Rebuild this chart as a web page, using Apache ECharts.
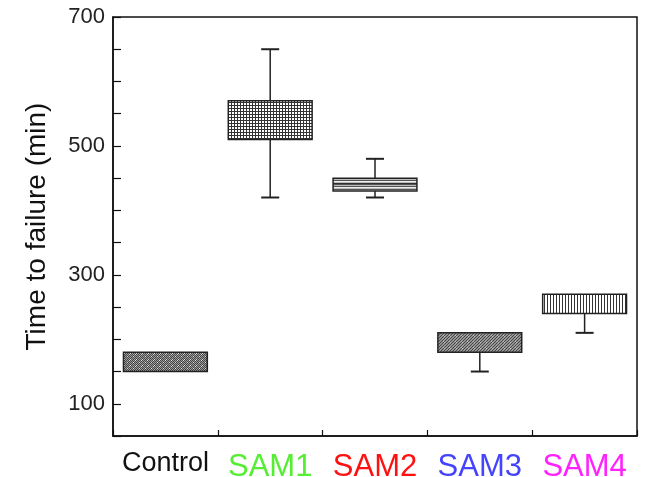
<!DOCTYPE html>
<html><head><meta charset="utf-8">
<script src="https://cdn.jsdelivr.net/npm/echarts@6/dist/echarts.min.js"></script>
<style>html,body{margin:0;padding:0;background:#fff}#c{width:653px;height:477px}</style>
</head><body><div id="c"></div>
<script>
var categories = ['Control', 'SAM1', 'SAM2', 'SAM3', 'SAM4'];
var labelColors = ['#111111', '#55ee33', '#ff1111', '#4444ff', '#ff22ff'];
var boxLow = [150, 510, 430, 180, 240];
var boxHigh = [180, 570, 450, 210, 270];
var whiskerLow = [null, 420, 420, 150, 210];
var whiskerHigh = [null, 650, 480, null, null];
var midLine = [null, null, 441, null, null];
var yLabelValues = [100, 300, 500, 700];

function makePattern(kind) {
  var c = document.createElement('canvas');
  var s = 6; c.width = s; c.height = s;
  var g = c.getContext('2d');
  g.fillStyle = '#ffffff'; g.fillRect(0, 0, s, s);
  if (kind === 0) {
    g.fillStyle = '#9a9a9a'; g.fillRect(0, 0, s, s);
    g.fillStyle = '#444';
    for (var i = 0; i < s; i++) for (var j = 0; j < s; j++) if ((i + j) % 2 === 0) g.fillRect(i, j, 1, 1);
    g.fillStyle = '#ddd'; g.fillRect(1, 2, 1, 1); g.fillRect(4, 5, 1, 1); g.fillRect(3, 0, 1, 1);
  } else if (kind === 1) {
    g.fillStyle = '#333';
    g.fillRect(0, 0, s, 1); g.fillRect(0, 3, s, 1);
    g.fillRect(0, 0, 1, s); g.fillRect(3, 0, 1, s);
  } else if (kind === 2) {
    g.fillStyle = '#bbb'; g.fillRect(0, 0, s, s);
    g.fillStyle = '#555';
    g.fillRect(0, 0, s, 1); g.fillRect(0, 3, s, 1);
    g.fillStyle = '#eee'; g.fillRect(0, 1, s, 1); g.fillRect(0, 4, s, 1);
  } else if (kind === 3) {
    g.fillStyle = '#bbb'; g.fillRect(0, 0, s, s);
    g.strokeStyle = '#444'; g.lineWidth = 1.2;
    g.beginPath();
    g.moveTo(-1, s + 1); g.lineTo(s + 1, -1);
    g.moveTo(-1, 4); g.lineTo(4, -1);
    g.moveTo(2, s + 1); g.lineTo(s + 1, 2);
    g.stroke();
  } else {
    g.fillStyle = '#333';
    g.fillRect(1, 0, 1, s); g.fillRect(4, 0, 1, s);
  }
  return { image: c, repeat: 'repeat' };
}
var patterns = categories.map(function (_, i) { return makePattern(i); });

var seriesData = categories.map(function (_, i) {
  return [i, boxLow[i], boxHigh[i], whiskerLow[i], whiskerHigh[i], midLine[i]];
});

function renderItem(params, api) {
  var idx = api.value(0);
  var bw = api.size([1, 0])[0] * 0.8;
  var lo = api.coord([idx, api.value(1)]);
  var hi = api.coord([idx, api.value(2)]);
  var x = lo[0];
  var children = [];
  var capW = 18;
  var stroke = { stroke: '#222', lineWidth: 1.5 };
  var wl = whiskerLow[idx], wh = whiskerHigh[idx], ml = midLine[idx];
  if (wl != null) {
    var p = api.coord([idx, wl]);
    children.push({ type: 'line', shape: { x1: x, y1: lo[1], x2: x, y2: p[1] }, style: stroke });
    children.push({ type: 'line', shape: { x1: x - capW / 2, y1: p[1], x2: x + capW / 2, y2: p[1] }, style: { stroke: '#222', lineWidth: 2 } });
  }
  if (wh != null) {
    var q = api.coord([idx, wh]);
    children.push({ type: 'line', shape: { x1: x, y1: hi[1], x2: x, y2: q[1] }, style: stroke });
    children.push({ type: 'line', shape: { x1: x - capW / 2, y1: q[1], x2: x + capW / 2, y2: q[1] }, style: { stroke: '#222', lineWidth: 2 } });
  }
  children.push({
    type: 'rect',
    shape: { x: x - bw / 2, y: hi[1], width: bw, height: lo[1] - hi[1] },
    style: { fill: patterns[idx], stroke: '#222', lineWidth: 1.5 }
  });
  if (ml != null) {
    var m = api.coord([idx, ml]);
    children.push({ type: 'line', shape: { x1: x - bw / 2, y1: m[1], x2: x + bw / 2, y2: m[1] }, style: stroke });
  }
  return { type: 'group', children: children };
}

var rich = {};
categories.forEach(function (c, i) {
  rich['c' + i] = i === 0
    ? { fontSize: 27, color: labelColors[i], fontFamily: 'Liberation Sans, Arial, sans-serif', padding: [2, 0, 0, 0] }
    : { fontSize: 31, color: labelColors[i], fontFamily: 'Liberation Sans, Arial, sans-serif', padding: [4, 0, 0, 0] };
});

var chart = echarts.init(document.getElementById('c'), null, { renderer: 'canvas' });
chart.setOption({
  animation: false,
  backgroundColor: '#fff',
  grid: { left: 113, right: 16, top: 17, bottom: 41, outerBoundsMode: 'none', containLabel: false, show: true, borderColor: '#111', borderWidth: 1.5, backgroundColor: 'transparent' },
  xAxis: {
    type: 'category',
    data: categories,
    boundaryGap: true,
    axisLine: { show: true, lineStyle: { color: '#111', width: 1.5 } },
    axisTick: { show: true, inside: true, length: 6, lineStyle: { color: '#111', width: 1.2 } },
    axisLabel: {
      show: true,
      margin: 12,
      interval: 0,
      formatter: function (v) { return '{c' + categories.indexOf(v) + '|' + v + '}'; },
      rich: rich
    }
  },
  yAxis: {
    type: 'value',
    min: 50, max: 700, interval: 50,
    name: 'Time to failure (min)',
    nameLocation: 'middle',
    nameGap: 62,
    nameTextStyle: { fontSize: 28, color: '#111', fontFamily: 'Liberation Sans, Arial, sans-serif' },
    axisLine: { show: true, lineStyle: { color: '#111', width: 1.5 } },
    axisTick: { show: true, inside: true, length: 8, lineStyle: { color: '#111', width: 1.2 } },
    splitLine: { show: false },
    axisLabel: {
      show: true,
      margin: 8,
      fontSize: 22,
      color: '#222',
      fontFamily: 'Liberation Sans, Arial, sans-serif',
      formatter: function (v) { return yLabelValues.indexOf(v) >= 0 ? String(v) : ''; }
    }
  },
  series: [{
    type: 'custom',
    renderItem: renderItem,
    encode: { x: 0, y: [1, 2, 3, 4] },
    data: seriesData
  }]
});
</script></body></html>
